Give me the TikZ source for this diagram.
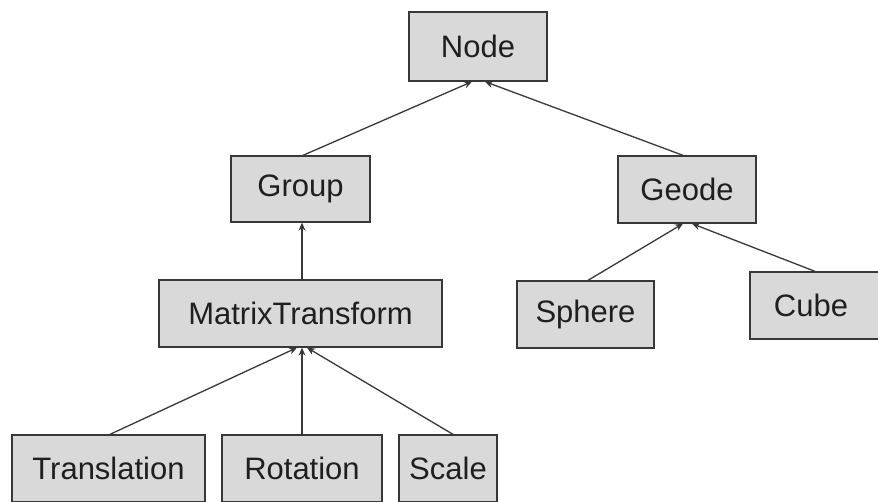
\documentclass[tikz,border=0pt]{standalone}
\usepackage{fontspec}
\setmainfont{Liberation Sans}
\usetikzlibrary{arrows.meta,calc}
\definecolor{boxfill}{HTML}{D9D9D9}
\definecolor{edge}{HTML}{383838}
\tikzset{
  cls/.style={draw=edge, fill=boxfill, line width=1.3pt, rectangle, inner sep=0pt,
    text=black!88, font=\fontsize{31}{37}\selectfont},
  arr/.style={draw=edge, line width=1.3pt, -{Stealth[length=8pt,width=7pt]}}
}
\begin{document}
\begin{tikzpicture}[x=1pt,y=-1pt]
\useasboundingbox (0,0) rectangle (878,502);
\clip (0,0) rectangle (878,502);
\node[cls, minimum width=138pt, minimum height=69pt] (nroot) at (478,46.5) {Node};
\node[cls, minimum width=139pt, minimum height=66pt] (group) at (300.5,189) {Group};
\node[cls, minimum width=138pt, minimum height=67pt] (geode) at (687,189.5) {Geode};
\node[cls, minimum width=283pt, minimum height=67pt] (mt) at (300.5,313.5) {MatrixTransform};
\node[cls, minimum width=137pt, minimum height=67pt] (sphere) at (585.5,314.5) {Sphere};
\node[cls, minimum width=150pt, minimum height=67pt, text width=140pt, align=center] (cube) at (825,305.5) {Cube\hspace*{28pt}};
\node[cls, minimum width=193pt, minimum height=67pt] (trans) at (108.5,468.5) {Translation};
\node[cls, minimum width=160pt, minimum height=67pt] (rot) at (302,468.5) {Rotation};
\node[cls, minimum width=98pt, minimum height=67pt] (scale) at (448,468.5) {Scale};

\draw[arr] ($(group.north)+(2.5,0)$) -- ($(nroot.south)+(-6,0)$);
\draw[arr] ($(geode.north)+(-4,0)$) -- ($(nroot.south)+(7,0)$);
\draw[arr] ($(mt.north)+(1.5,0)$) -- ($(group.south)+(1.5,0)$);
\draw[arr] ($(trans.north)+(1.5,0)$) -- ($(mt.south)+(-3.5,0)$);
\draw[arr] ($(rot.north)$) -- ($(mt.south)+(1.5,0)$);
\draw[arr] ($(scale.north)+(5,0)$) -- ($(mt.south)+(6.5,0)$);
\draw[arr] ($(sphere.north)+(2.5,0)$) -- ($(geode.south)+(-4,0)$);
\draw[arr] ($(cube.north)+(-10,0)$) -- ($(geode.south)+(5,0)$);
\end{tikzpicture}
\end{document}
